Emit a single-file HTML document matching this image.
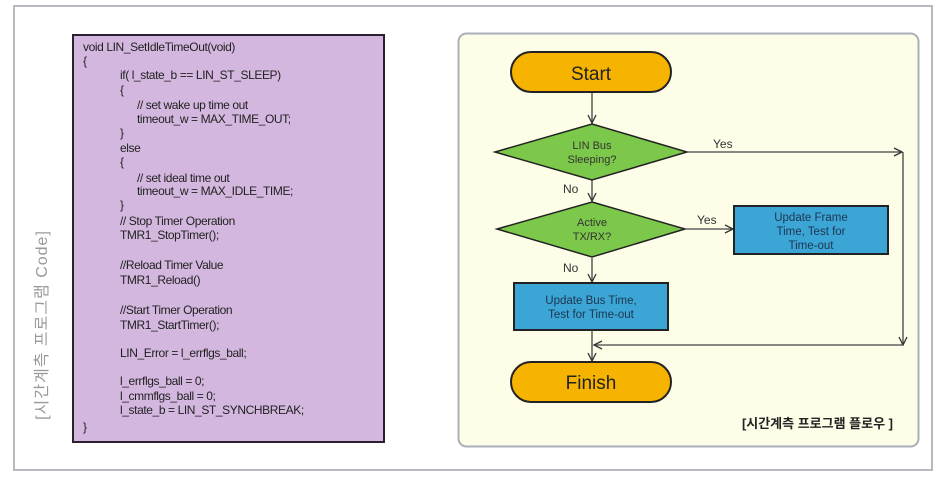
<!DOCTYPE html>
<html><head><meta charset="utf-8"><style>
body{margin:0;width:949px;height:480px;background:#fff;position:relative;overflow:hidden;font-family:"Liberation Sans","Noto Sans CJK KR",sans-serif}
.frame{position:absolute;left:13px;top:5px;width:920px;height:466px;border:2px solid #b8b8c0;box-sizing:border-box}
.code{position:absolute;left:72px;top:34px;width:313px;height:409px;background:#d3b7df;border:2px solid #2a2030;box-sizing:border-box}
.l{position:absolute;font-size:12px;color:#222;white-space:pre;letter-spacing:-0.4px}
.vt{position:absolute;left:-75px;top:313px;width:230px;text-align:center;transform:rotate(-90deg);color:#999;font-size:16px;letter-spacing:1px}
</style></head><body>
<div class="frame"></div>
<div class="vt">[시간계측 프로그램 Code]</div>
<div class="code"></div>
<div class="l" style="left:83px;top:40px">void LIN_SetIdleTimeOut(void)</div>
<div class="l" style="left:83px;top:54px">{</div>
<div class="l" style="left:120px;top:68px">if( l_state_b == LIN_ST_SLEEP)</div>
<div class="l" style="left:120px;top:83px">{</div>
<div class="l" style="left:137px;top:98px">// set wake up time out</div>
<div class="l" style="left:137px;top:112px">timeout_w = MAX_TIME_OUT;</div>
<div class="l" style="left:120px;top:126px">}</div>
<div class="l" style="left:120px;top:141px">else</div>
<div class="l" style="left:120px;top:155px">{</div>
<div class="l" style="left:137px;top:171px">// set ideal time out</div>
<div class="l" style="left:137px;top:184px">timeout_w = MAX_IDLE_TIME;</div>
<div class="l" style="left:120px;top:198px">}</div>
<div class="l" style="left:120px;top:214px">// Stop Timer Operation</div>
<div class="l" style="left:120px;top:228px">TMR1_StopTimer();</div>
<div class="l" style="left:120px;top:258px">//Reload Timer Value</div>
<div class="l" style="left:120px;top:273px">TMR1_Reload()</div>
<div class="l" style="left:120px;top:303px">//Start Timer Operation</div>
<div class="l" style="left:120px;top:318px">TMR1_StartTimer();</div>
<div class="l" style="left:120px;top:346px">LIN_Error = l_errflgs_ball;</div>
<div class="l" style="left:120px;top:374px">l_errflgs_ball = 0;</div>
<div class="l" style="left:120px;top:389px">l_cmmflgs_ball = 0;</div>
<div class="l" style="left:120px;top:403px">l_state_b = LIN_ST_SYNCHBREAK;</div>
<div class="l" style="left:83px;top:420px">}</div>

<svg style="position:absolute;left:0;top:0" width="949" height="480" font-family="Liberation Sans, Noto Sans CJK KR, sans-serif">
<defs><marker id="a" markerWidth="10" markerHeight="10" refX="9" refY="5" orient="auto" markerUnits="userSpaceOnUse"><path d="M1,1 L9,5 L1,9" fill="none" stroke="#333" stroke-width="1.3"/></marker></defs>
<rect x="458.5" y="33.5" width="460" height="413" rx="8" fill="#fdfde8" stroke="#a8b0b8" stroke-width="2"/>
<rect x="511" y="52" width="160" height="40" rx="20" fill="#f6b400" stroke="#222" stroke-width="2"/>
<text x="591" y="80" font-size="19" text-anchor="middle" fill="#222">Start</text>
<line x1="592" y1="93" x2="592" y2="123" stroke="#444" stroke-width="1.3" marker-end="url(#a)"/>
<polygon points="592,124 687,152 592,180 495,152" fill="#7cc84a" stroke="#222" stroke-width="1.5"/>
<text x="592" y="149" font-size="11" text-anchor="middle" fill="#333">LIN Bus</text>
<text x="592" y="163" font-size="11" text-anchor="middle" fill="#333">Sleeping?</text>
<line x1="687" y1="152" x2="902" y2="152" stroke="#444" stroke-width="1.3" marker-end="url(#a)"/>
<text x="713" y="148" font-size="12" fill="#333">Yes</text>
<line x1="903" y1="152" x2="903" y2="345" stroke="#444" stroke-width="1.3" marker-end="url(#a)"/>
<text x="563" y="193" font-size="12" fill="#333">No</text>
<line x1="592" y1="180" x2="592" y2="201" stroke="#444" stroke-width="1.3" marker-end="url(#a)"/>
<polygon points="592,202 685,229 592,257 497,229" fill="#7cc84a" stroke="#222" stroke-width="1.5"/>
<text x="592" y="226" font-size="11" text-anchor="middle" fill="#333">Active</text>
<text x="592" y="240" font-size="11" text-anchor="middle" fill="#333">TX/RX?</text>
<line x1="685" y1="229" x2="733" y2="229" stroke="#444" stroke-width="1.3" marker-end="url(#a)"/>
<text x="697" y="224" font-size="12" fill="#333">Yes</text>
<rect x="734" y="206" width="154" height="48" fill="#3ba6d5" stroke="#222" stroke-width="2"/>
<text x="811" y="221" font-size="11.5" text-anchor="middle" fill="#1d3550">Update Frame</text>
<text x="811" y="235" font-size="11.5" text-anchor="middle" fill="#1d3550">Time, Test for</text>
<text x="811" y="249" font-size="11.5" text-anchor="middle" fill="#1d3550">Time-out</text>
<text x="563" y="272" font-size="12" fill="#333">No</text>
<line x1="592" y1="258" x2="592" y2="282" stroke="#444" stroke-width="1.3" marker-end="url(#a)"/>
<rect x="514" y="283" width="154" height="47" fill="#3ba6d5" stroke="#222" stroke-width="2"/>
<text x="591" y="304" font-size="11.5" text-anchor="middle" fill="#1d3550">Update Bus Time,</text>
<text x="591" y="318" font-size="11.5" text-anchor="middle" fill="#1d3550">Test for Time-out</text>
<line x1="592" y1="330" x2="592" y2="361" stroke="#444" stroke-width="1.3" marker-end="url(#a)"/>
<line x1="903" y1="345" x2="594" y2="345" stroke="#444" stroke-width="1.3" marker-end="url(#a)"/>
<rect x="511" y="362" width="160" height="40" rx="20" fill="#f6b400" stroke="#222" stroke-width="2"/>
<text x="591" y="389" font-size="19" text-anchor="middle" fill="#222">Finish</text>
<text x="893" y="428" font-size="13" font-weight="bold" text-anchor="end" fill="#222">[시간계측 프로그램 플로우 ]</text>
</svg>
</body></html>
